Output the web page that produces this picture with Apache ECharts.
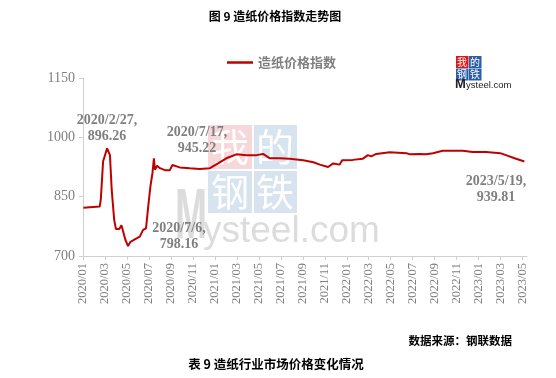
<!DOCTYPE html>
<html><head><meta charset="utf-8">
<script src="https://cdn.jsdelivr.net/npm/echarts@6/dist/echarts.min.js"></script>
<style>html,body{margin:0;padding:0;background:#fff}#c{width:556px;height:378px}</style>
</head><body><div id="c"></div>
<script>
var seriesName = '造纸价格指数';
var dates = ['2020-01-02','2020-02-16','2020-02-19','2020-02-25','2020-03-07','2020-03-15','2020-03-20','2020-03-27','2020-04-01','2020-04-10','2020-04-16','2020-04-20','2020-04-27','2020-05-04','2020-05-11','2020-05-23','2020-06-06','2020-06-15','2020-06-23','2020-06-29','2020-07-05','2020-07-11','2020-07-15','2020-07-18','2020-07-24','2020-08-01','2020-08-15','2020-08-29','2020-09-05','2020-09-25','2020-10-23','2020-11-20','2020-12-18','2021-01-10','2021-02-02','2021-02-28','2021-03-28','2021-04-25','2021-05-13','2021-06-01','2021-06-28','2021-07-26','2021-09-02','2021-09-30','2021-10-18','2021-11-10','2021-11-24','2021-12-12','2021-12-19','2022-01-18','2022-02-14','2022-02-27','2022-03-08','2022-03-22','2022-04-28','2022-06-14','2022-06-23','2022-07-20','2022-08-08','2022-08-27','2022-09-23','2022-11-18','2022-12-15','2023-01-22','2023-02-28','2023-03-16','2023-04-09','2023-05-06'];
var values = [822,825,843,939,972,955,867,791,768,768,778,773,740,725,736,742,749,766,770,825,875,910,947,918,928,922,917,917,930,924,922,920,922,934,947,957,955,955,958,947,947,946,942,937,931,925,934,931,942,943,946,955,952,958,962,960,957,958,957,960,966,966,963,963,960,955,947,939];
var xTickLabels = ['2020/01','2020/03','2020/05','2020/07','2020/09','2020/11','2021/01','2021/03','2021/05','2021/07','2021/09','2021/11','2022/01','2022/03','2022/05','2022/07','2022/09','2022/11','2023/01','2023/03','2023/05'];
var yTickLabels = ['700','850','1000','1150'];
var annotations = [
  {text:'2020/2/27,\n896.26', x:107, y:128},
  {text:'2020/7/17,\n945.22', x:197, y:140},
  {text:'2020/7/6,\n798.16', x:179, y:236},
  {text:'2023/5/19,\n939.81', x:496, y:189}
];

function monthIndex(s){
  var p = s.split('-').map(Number);
  var dim = new Date(p[0], p[1], 0).getDate();
  return (p[0]-2020)*12 + (p[1]-1) + (p[2]-1)/dim;
}
var data = dates.map(function(d,i){ return [monthIndex(d), values[i]]; });
var tickVals = xTickLabels.map(function(l){ var p=l.split('/').map(Number); return (p[0]-2020)*12+(p[1]-1); });
function labelFor(v){ var i = tickVals.indexOf(v); return i<0?'':xTickLabels[i]; }

var gray = '#7f7f7f';
var serif = '"Liberation Serif","Times New Roman",serif';
var cjk = '"Noto Sans CJK SC",sans-serif';

var graphics = [
  {type:'rect', shape:{x:208,y:125,width:44,height:44}, style:{fill:'#f6d7da'}, z:0, silent:true},
  {type:'rect', shape:{x:254,y:125,width:43,height:44}, style:{fill:'#d8e3f0'}, z:0, silent:true},
  {type:'rect', shape:{x:208,y:171,width:44,height:42}, style:{fill:'#d8e3f0'}, z:0, silent:true},
  {type:'rect', shape:{x:254,y:171,width:43,height:42}, style:{fill:'#d8e3f0'}, z:0, silent:true},
  {type:'text', x:230, y:147, style:{text:'我', fill:'#fff', font:'38px '+cjk, textAlign:'center', textVerticalAlign:'middle'}, z:1, silent:true},
  {type:'text', x:275, y:147, style:{text:'的', fill:'#fff', font:'38px '+cjk, textAlign:'center', textVerticalAlign:'middle'}, z:1, silent:true},
  {type:'text', x:230, y:192, style:{text:'钢', fill:'#fff', font:'38px '+cjk, textAlign:'center', textVerticalAlign:'middle'}, z:1, silent:true},
  {type:'text', x:275, y:192, style:{text:'铁', fill:'#fff', font:'38px '+cjk, textAlign:'center', textVerticalAlign:'middle'}, z:1, silent:true},
  {type:'text', x:175, y:254, scaleX:0.55, style:{text:'M', fill:'#dcdcdc', font:'bold 70px "Liberation Sans",Arial,sans-serif', textAlign:'left', textVerticalAlign:'bottom'}, z:1, silent:true},
  {type:'text', x:203, y:250, style:{text:'ysteel.com', fill:'#dcdcdc', font:'37px "Liberation Sans",Arial,sans-serif', textAlign:'left', textVerticalAlign:'bottom'}, z:1, silent:true},
  // small logo
  {type:'rect', shape:{x:456,y:56,width:12.5,height:12}, style:{fill:'#d7191c'}, silent:true},
  {type:'rect', shape:{x:469,y:56,width:12.5,height:12}, style:{fill:'#2b5ea8'}, silent:true},
  {type:'rect', shape:{x:456,y:68.5,width:12.5,height:12}, style:{fill:'#2b5ea8'}, silent:true},
  {type:'rect', shape:{x:469,y:68.5,width:12.5,height:12}, style:{fill:'#2b5ea8'}, silent:true},
  {type:'text', x:462, y:62, style:{text:'我', fill:'#fff', font:'10px '+cjk, textAlign:'center', textVerticalAlign:'middle'}, silent:true},
  {type:'text', x:475, y:62, style:{text:'的', fill:'#fff', font:'10px '+cjk, textAlign:'center', textVerticalAlign:'middle'}, silent:true},
  {type:'text', x:462, y:74.5, style:{text:'钢', fill:'#fff', font:'10px '+cjk, textAlign:'center', textVerticalAlign:'middle'}, silent:true},
  {type:'text', x:475, y:74.5, style:{text:'铁', fill:'#fff', font:'10px '+cjk, textAlign:'center', textVerticalAlign:'middle'}, silent:true},
  {type:'text', x:455, y:91, style:{text:'M', fill:'#222', font:'bold 13px "Liberation Sans",Arial,sans-serif', textAlign:'left', textVerticalAlign:'bottom'}, silent:true},
  {type:'text', x:466, y:90, style:{text:'ysteel.com', fill:'#222', font:'9.5px "Liberation Sans",Arial,sans-serif', textAlign:'left', textVerticalAlign:'bottom'}, silent:true},
  // titles and footers
  {type:'text', x:275, y:16, style:{text:'图 9 造纸价格指数走势图', fill:'#000', font:'bold 12px '+cjk, textAlign:'center', textVerticalAlign:'middle'}},
  {type:'text', x:512, y:341, style:{text:'数据来源：钢联数据', fill:'#000', font:'bold 11.5px '+cjk, textAlign:'right', textVerticalAlign:'middle'}},
  {type:'text', x:276, y:364, style:{text:'表 9 造纸行业市场价格变化情况', fill:'#000', font:'bold 12.5px '+cjk, textAlign:'center', textVerticalAlign:'middle'}}
];
annotations.forEach(function(a){
  graphics.push({type:'text', x:a.x, y:a.y, z:5, style:{text:a.text, fill:gray, font:'bold 14px '+serif, textAlign:'center', textVerticalAlign:'middle', lineHeight:16}});
});

var chart = echarts.init(document.getElementById('c'), null, {renderer:'canvas'});
chart.setOption({
  animation:false,
  backgroundColor:'#fff',
  grid:{left:83, right:29, top:78, bottom:122, containLabel:false},
  legend:{
    data:[seriesName], left:222, top:51, icon:'rect', itemWidth:26, itemHeight:2.5, itemGap:4,
    textStyle:{color:gray, fontWeight:'bold', fontSize:13, fontFamily:cjk}
  },
  xAxis:{
    type:'value', min:0, max:40.4, interval:2,
    splitLine:{show:false},
    axisLine:{show:true, lineStyle:{color:'#d0d0d0'}},
    axisTick:{show:true, length:4, lineStyle:{color:'#d0d0d0'}, customValues:tickVals},
    axisLabel:{rotate:90, margin:7, color:gray, fontSize:12.5, fontFamily:serif, customValues:tickVals, formatter:function(v){return labelFor(v);}}
  },
  yAxis:{
    type:'value', min:700, max:1150, interval:150,
    splitLine:{show:false},
    axisLine:{show:true, lineStyle:{color:'#d0d0d0'}},
    axisTick:{show:true, length:4, lineStyle:{color:'#d0d0d0'}},
    axisLabel:{color:gray, fontSize:14, fontFamily:serif, margin:8, formatter:function(v){ var s=String(v); return yTickLabels.indexOf(s)>=0?s:''; }}
  },
  graphic:{elements:graphics},
  series:[{
    name:seriesName, type:'line', data:data, symbol:'none', z:3,
    lineStyle:{color:'#c00000', width:2}, itemStyle:{color:'#c00000'}
  }]
});
</script></body></html>
